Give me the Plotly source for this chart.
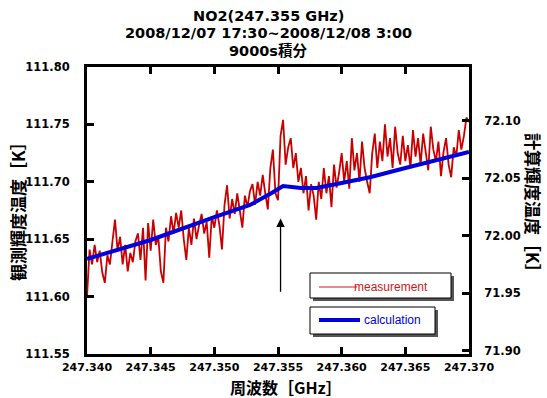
import plotly.graph_objects as go

# ---------------- data ----------------
freq_start = 247.340
freq_step = 0.0002
measurement = [
    111.600, 111.641, 111.628, 111.645, 111.630, 111.640, 111.621, 111.612, 111.636, 111.628,
    111.648, 111.667, 111.640, 111.652, 111.628, 111.645, 111.622, 111.638, 111.630, 111.648,
    111.655, 111.632, 111.660, 111.614, 111.664, 111.640, 111.667, 111.645, 111.652, 111.622,
    111.612, 111.660, 111.648, 111.670, 111.655, 111.673, 111.660, 111.675, 111.650, 111.632,
    111.660, 111.645, 111.668, 111.650, 111.662, 111.672, 111.655, 111.665, 111.634, 111.670,
    111.660, 111.675, 111.662, 111.641, 111.680, 111.697, 111.668, 111.685, 111.672, 111.690,
    111.675, 111.660, 111.688, 111.678, 111.692, 111.698, 111.680, 111.700, 111.688, 111.706,
    111.690, 111.676, 111.712, 111.728, 111.690, 111.684, 111.740, 111.754, 111.715, 111.730,
    111.738, 111.712, 111.725, 111.700, 111.712, 111.690, 111.705, 111.675, 111.698, 111.688,
    111.667, 111.700, 111.685, 111.712, 111.690, 111.705, 111.678, 111.715, 111.695, 111.708,
    111.725, 111.700, 111.718, 111.694, 111.738, 111.710, 111.725, 111.700, 111.735, 111.712,
    111.700, 111.690, 111.725, 111.742, 111.712, 111.735, 111.718, 111.750, 111.722, 111.738,
    111.712, 111.748, 111.725, 111.715, 111.740, 111.718, 111.732, 111.712, 111.745, 111.722,
    111.738, 111.715, 111.742, 111.725, 111.710, 111.748, 111.728, 111.718, 111.735, 111.705,
    111.726, 111.738, 111.715, 111.704, 111.730, 111.722, 111.745, 111.728, 111.740, 111.756,
    111.752,
]
meas_freq = [round(freq_start + freq_step * i, 5) for i in range(len(measurement))]

calc_freq = [247.340, 247.345, 247.350, 247.3528, 247.3545, 247.3554, 247.3568,
             247.358, 247.360, 247.3623, 247.365, 247.370]
calculation = [71.9798, 71.9963, 72.0163, 72.0268, 72.0372, 72.0433, 72.0416,
               72.0416, 72.0460, 72.0512, 72.0590, 72.0730]

x_ticks = [247.340, 247.345, 247.350, 247.355, 247.360, 247.365, 247.370]
y_ticks = [111.55, 111.60, 111.65, 111.70, 111.75, 111.80]
y2_ticks = [71.90, 71.95, 72.00, 72.05, 72.10]

title_lines = ["NO2(247.355 GHz)", "2008/12/07 17:30~2008/12/08 3:00", "9000s積分"]

# ---------------- figure ----------------
W, H = 547, 398
L, R, T, B = 87, 469, 67, 354


def px(xp):
    return (xp - L) / (R - L)


def py(yp):
    return (B - yp) / (B - T)


fig = go.Figure()
fig.add_trace(go.Scatter(x=meas_freq, y=measurement, mode="lines",
                         line=dict(color="#c80000", width=1.8),
                         name="measurement", showlegend=False))
fig.add_trace(go.Scatter(x=calc_freq, y=calculation, mode="lines", yaxis="y2",
                         line=dict(color="#0000dd", width=4),
                         name="calculation", showlegend=False))

tickfont = dict(family="DejaVu Sans", size=11.5, color="black", weight="bold")
axis_common = dict(showline=True, linecolor="black", linewidth=3, ticks="inside",
                   ticklen=7, tickwidth=3, tickcolor="black", showgrid=False,
                   zeroline=False, tickfont=tickfont)

fig.update_layout(
    width=W, height=H,
    margin=dict(l=L, r=W - R, t=T, b=H - B, pad=0),
    paper_bgcolor="white", plot_bgcolor="white",
    showlegend=False,
    xaxis=dict(range=[247.340, 247.370], tickvals=x_ticks, tickformat=".3f",
               mirror="ticks", ticklabelstandoff=1,
               **{**axis_common, "tickfont": dict(tickfont, size=11)}),
    yaxis=dict(range=[111.55, 111.80], tickvals=y_ticks, tickformat=".2f",
               ticklabelstandoff=12, **axis_common),
    yaxis2=dict(range=[71.897, 72.147], tickvals=y2_ticks, tickformat=".2f",
                overlaying="y", side="right", ticklabelstandoff=10, **axis_common),
)

ann = []
title_y = [16, 33, 50]
for t, yy in zip(title_lines, title_y):
    ann.append(dict(text=t, x=px(268), y=py(yy), xref="paper", yref="paper",
                    showarrow=False, xanchor="center", yanchor="middle",
                    font=dict(family="DejaVu Sans, Noto Sans CJK JP", size=14.5,
                              color="black", weight="bold")))

cjk = dict(family="Noto Sans CJK JP", size=17, color="black", weight="bold")
ann.append(dict(text="観測輝度温度［K］", x=px(17), y=py(207), xref="paper", yref="paper",
                showarrow=False, textangle=-90, xanchor="center", yanchor="middle", font=cjk))
ann.append(dict(text="計算輝度温度［K］", x=px(534), y=py(207), xref="paper", yref="paper",
                showarrow=False, textangle=90, xanchor="center", yanchor="middle", font=cjk))
ann.append(dict(text="周波数［GHz］", x=px(286), y=py(387), xref="paper", yref="paper",
                showarrow=False, xanchor="center", yanchor="middle",
                font=dict(cjk, size=16)))

# arrow marking the line centre
ann.append(dict(x=247.3552, y=111.668, ax=247.3552, ay=111.603, xref="x", yref="y",
                axref="x", ayref="y", text="", showarrow=True, arrowhead=2,
                arrowsize=1.3, arrowwidth=1.3, arrowcolor="black"))

# legend entries (drawn as boxes)
ann.append(dict(text="measurement", x=px(352), y=py(287), xref="paper", yref="paper",
                showarrow=False, xanchor="left", yanchor="middle",
                font=dict(family="Liberation Sans", size=12, color="#d01818")))
ann.append(dict(text="calculation", x=px(362), y=py(320), xref="paper", yref="paper",
                showarrow=False, xanchor="left", yanchor="middle",
                font=dict(family="Liberation Sans", size=12, color="#0000dd")))
fig.update_layout(annotations=ann)

shapes = []
for (x0, y0, x1, y1) in [(310, 273, 451, 298), (310, 307, 435, 334)]:
    shapes.append(dict(type="rect", xref="paper", yref="paper",
                       x0=px(x0 + 3), x1=px(x1 + 3), y0=py(y0 + 3), y1=py(y1 + 3),
                       fillcolor="#555555", line=dict(width=0)))
    shapes.append(dict(type="rect", xref="paper", yref="paper",
                       x0=px(x0), x1=px(x1), y0=py(y0), y1=py(y1),
                       fillcolor="white", line=dict(color="black", width=1)))
shapes.append(dict(type="line", xref="paper", yref="paper", x0=px(319), x1=px(357),
                   y0=py(287), y1=py(287), line=dict(color="#d01818", width=1.2)))
shapes.append(dict(type="line", xref="paper", yref="paper", x0=px(319), x1=px(360),
                   y0=py(320), y1=py(320), line=dict(color="#0000dd", width=4)))
fig.update_layout(shapes=shapes)

fig.write_html("out.html")
